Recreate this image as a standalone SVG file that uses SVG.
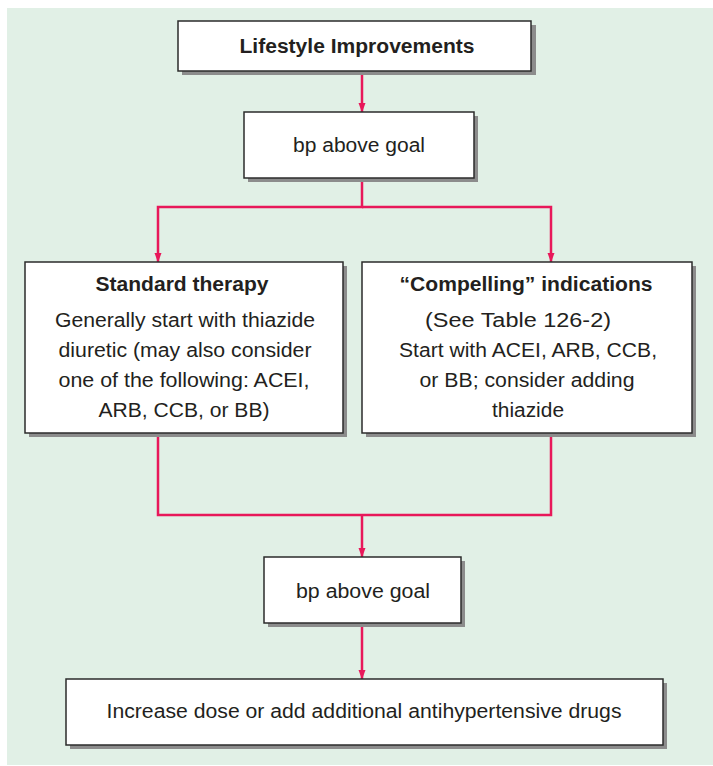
<svg xmlns="http://www.w3.org/2000/svg" width="713" height="766" viewBox="0 0 713 766">
<defs>
<style>
.bg{fill:#e1f0e6}
.sh{fill:#8c8c8c}
.box{fill:#ffffff;stroke:#2b2b2b;stroke-width:1.5}
.t{font-family:"Liberation Sans",Arial,sans-serif;font-size:20px;fill:#231f20;text-anchor:middle}
.b{font-weight:bold}
.c{fill:none;stroke:#e8185a;stroke-width:2.5}
</style>
<marker id="ah" markerWidth="10" markerHeight="14" refX="5" refY="13" orient="auto" markerUnits="userSpaceOnUse" viewBox="0 0 10 14">
<path d="M0,0 L10,0 L5,14 Z" fill="#e8185a" transform="rotate(-90 5 7)"/>
</marker>
<marker id="arr" markerWidth="10" markerHeight="14" refX="13" refY="5" orient="auto" markerUnits="userSpaceOnUse" viewBox="0 0 14 10">
<path d="M0,0 L14,5 L0,10 Z" fill="#e8185a"/>
</marker>
</defs>
<rect class="bg" x="7" y="8" width="706" height="757"/>
<g id="connectors">
<line class="c" x1="362" y1="71" x2="362" y2="112" marker-end="url(#arr)"/>
<polyline class="c" points="362,178 362,207 158,207 158,262" marker-end="url(#arr)"/>
<polyline class="c" points="362,207 551,207 551,262" marker-end="url(#arr)"/>
<polyline class="c" points="158,433 158,515 551,515 551,433"/>
<line class="c" x1="362" y1="515" x2="362" y2="557" marker-end="url(#arr)"/>
<line class="c" x1="362" y1="623" x2="362" y2="679" marker-end="url(#arr)"/>
</g>
<g id="lifestyle">
<rect class="sh" x="182" y="25" width="354" height="50"/>
<rect class="box" x="178" y="21" width="353" height="50"/>
<text class="t b" x="357" y="53" textLength="235" lengthAdjust="spacingAndGlyphs">Lifestyle Improvements</text>
</g>
<g id="bp1">
<rect class="sh" x="248" y="116" width="230" height="66"/>
<rect class="box" x="244" y="112" width="230" height="66"/>
<text class="t" x="359" y="152" textLength="132" lengthAdjust="spacingAndGlyphs">bp above goal</text>
</g>
<g id="standard">
<rect class="sh" x="29" y="266" width="318" height="171"/>
<rect class="box" x="25" y="262" width="318" height="171"/>
<text class="t b" x="182" y="291" textLength="173" lengthAdjust="spacingAndGlyphs">Standard therapy</text>
<text class="t" x="185" y="327" textLength="260" lengthAdjust="spacingAndGlyphs">Generally start with thiazide</text>
<text class="t" x="185" y="357" textLength="253" lengthAdjust="spacingAndGlyphs">diuretic (may also consider</text>
<text class="t" x="184" y="387" textLength="251" lengthAdjust="spacingAndGlyphs">one of the following: ACEI,</text>
<text class="t" x="184" y="417" textLength="171" lengthAdjust="spacingAndGlyphs">ARB, CCB, or BB)</text>
</g>
<g id="compelling">
<rect class="sh" x="366" y="266" width="330" height="171"/>
<rect class="box" x="362" y="262" width="330" height="171"/>
<text class="t b" x="526" y="291" textLength="253" lengthAdjust="spacingAndGlyphs">“Compelling” indications</text>
<text class="t" x="518" y="327" textLength="186" lengthAdjust="spacingAndGlyphs">(See Table 126-2)</text>
<text class="t" x="528" y="357" textLength="258" lengthAdjust="spacingAndGlyphs">Start with ACEI, ARB, CCB,</text>
<text class="t" x="527" y="387" textLength="215" lengthAdjust="spacingAndGlyphs">or BB; consider adding</text>
<text class="t" x="528" y="417" textLength="72" lengthAdjust="spacingAndGlyphs">thiazide</text>
</g>
<g id="bp2">
<rect class="sh" x="268" y="561" width="197" height="66"/>
<rect class="box" x="264" y="557" width="197" height="66"/>
<text class="t" x="363" y="598" textLength="134" lengthAdjust="spacingAndGlyphs">bp above goal</text>
</g>
<g id="increase">
<rect class="sh" x="70" y="683" width="597" height="66"/>
<rect class="box" x="66" y="679" width="597" height="66"/>
<text class="t" x="364" y="718" textLength="515" lengthAdjust="spacingAndGlyphs">Increase dose or add additional antihypertensive drugs</text>
</g>
</svg>
